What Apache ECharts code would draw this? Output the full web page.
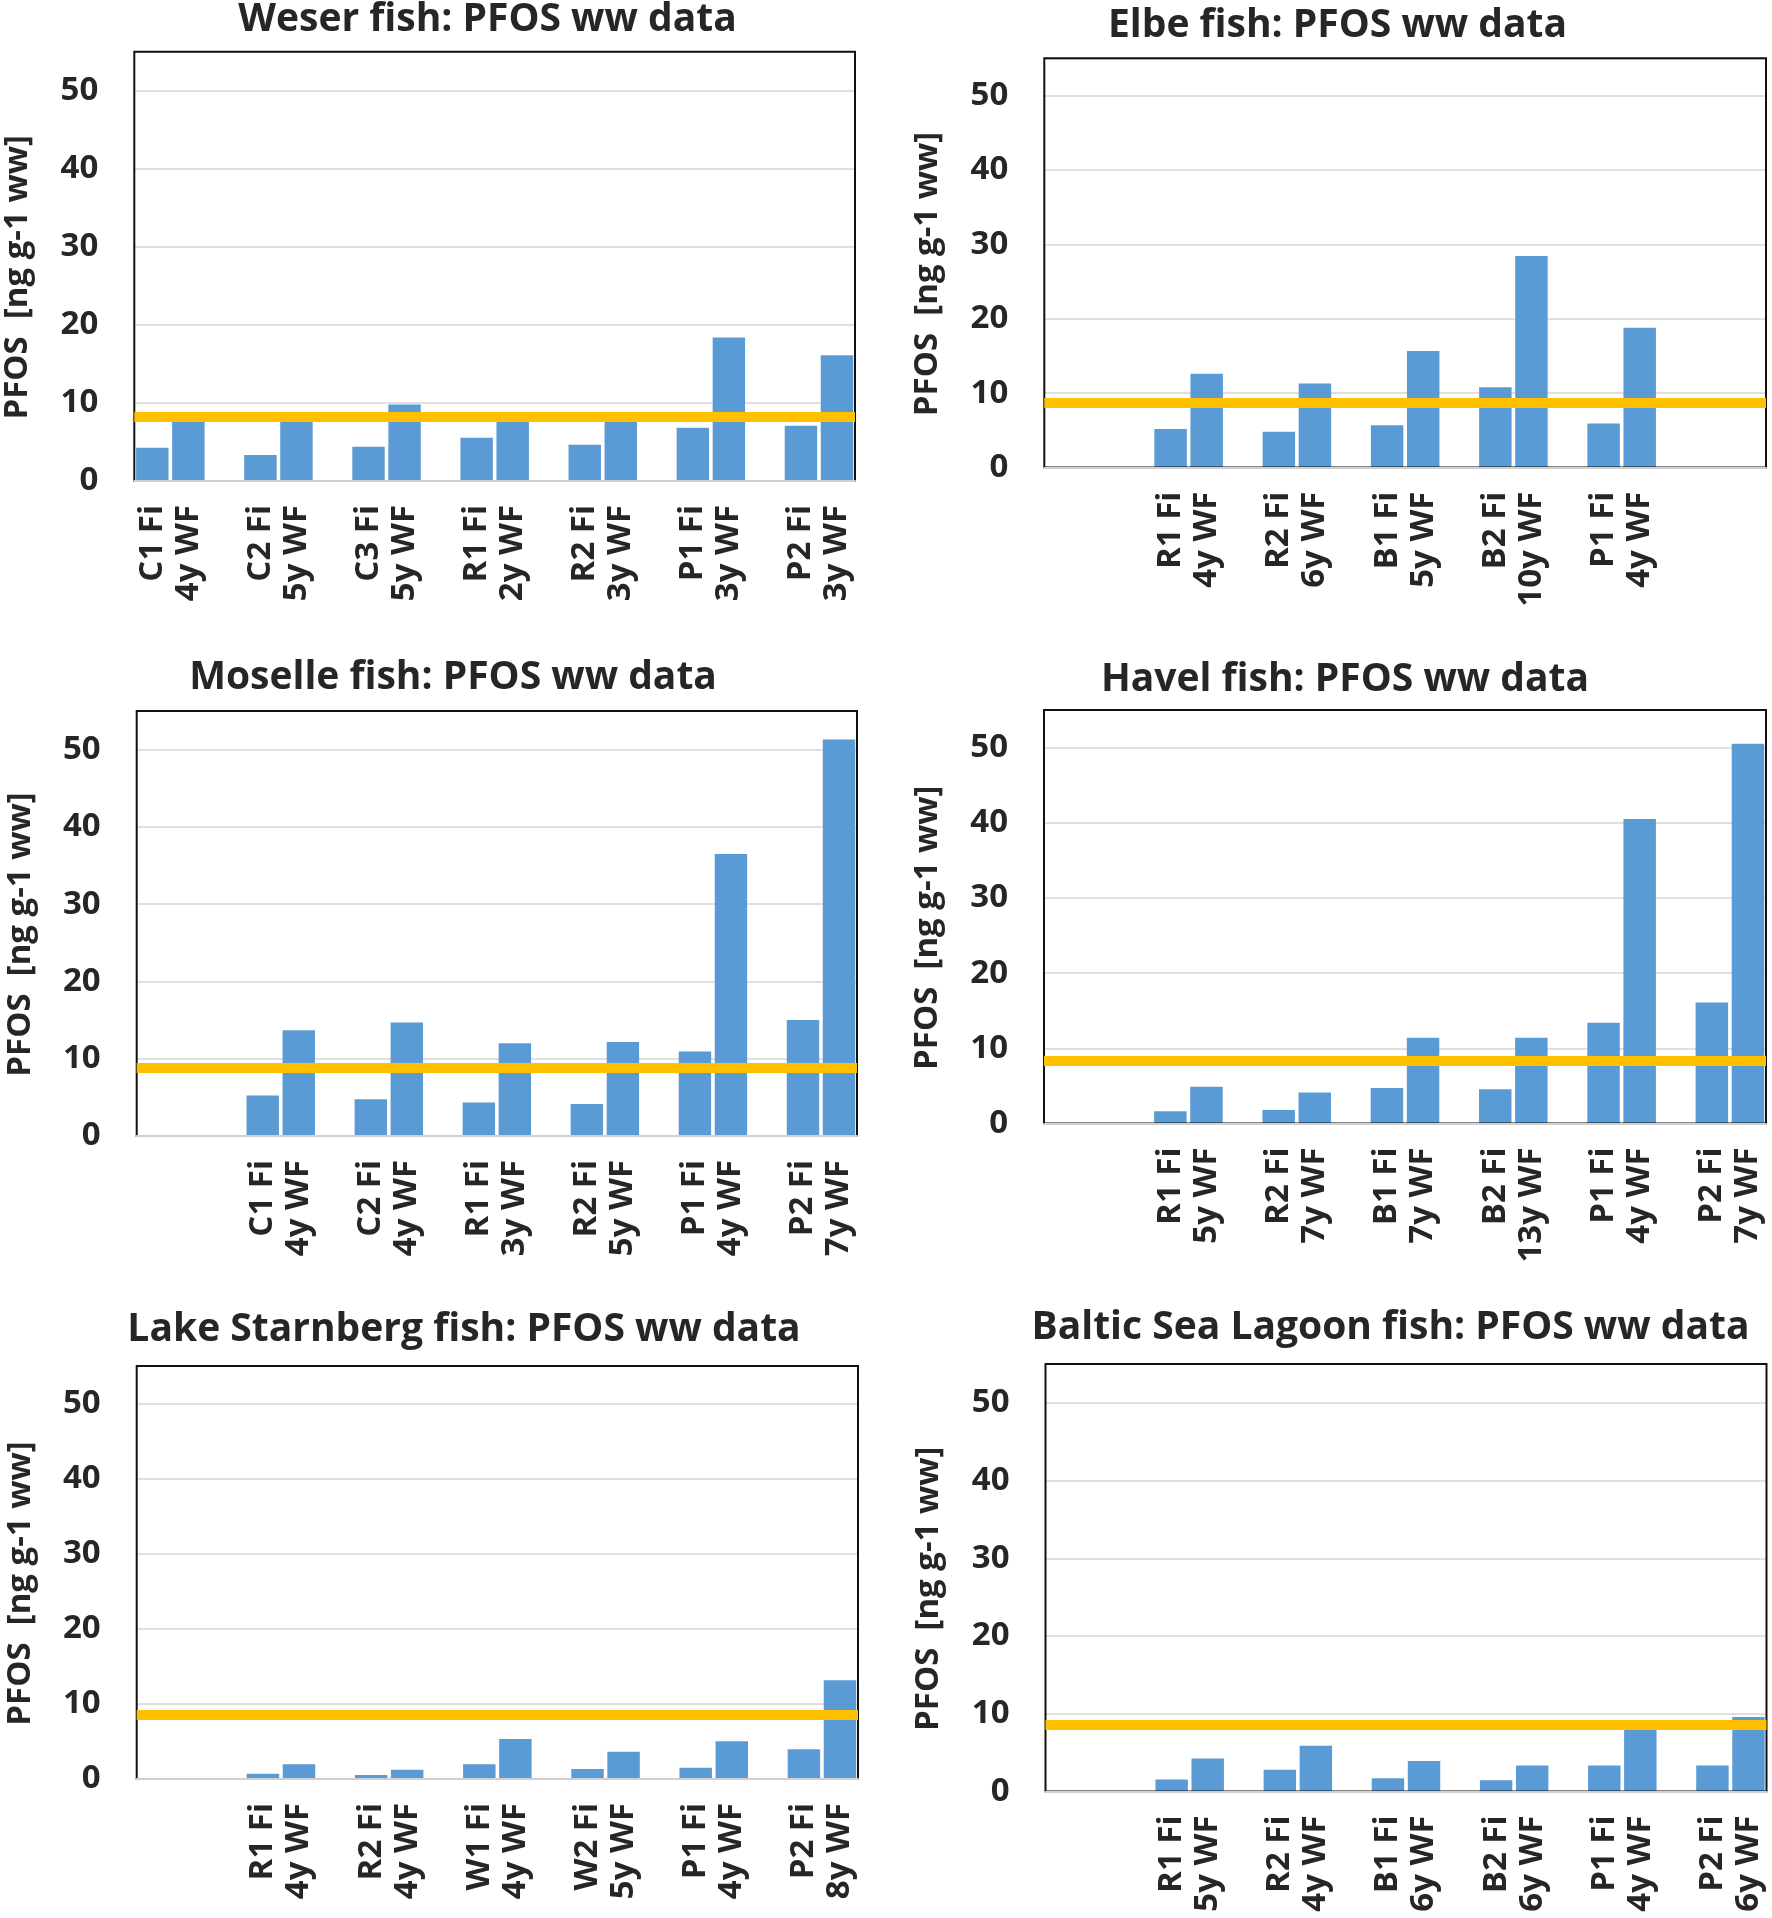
<!DOCTYPE html>
<html><head><meta charset="utf-8">
<script src="https://cdn.jsdelivr.net/npm/echarts@6/dist/echarts.min.js"></script>
<style>html,body{margin:0;padding:0;background:#fff}#c{width:1772px;height:1918px}</style>
</head><body><div id="c"></div>
<script>
// ---------- data ----------
const titles = [
  'Weser fish: PFOS ww data', 'Elbe fish: PFOS ww data',
  'Moselle fish: PFOS ww data', 'Havel fish: PFOS ww data',
  'Lake Starnberg fish: PFOS ww data', 'Baltic Sea Lagoon fish: PFOS ww data'
];
const yTicks = [0, 10, 20, 30, 40, 50];
const yAxisTitle = 'PFOS  [ng g-1 ww]';

const weserCats = ['C1 Fi','4y WF','','C2 Fi','5y WF','','C3 Fi','5y WF','','R1 Fi','2y WF','','R2 Fi','3y WF','','P1 Fi','3y WF','','P2 Fi','3y WF'];
const weserVals = [4.27,8.0,null,3.33,8.0,null,4.4,9.8,null,5.55,8.0,null,4.65,8.0,null,6.83,18.4,null,7.09,16.1];

const elbeCats = ['','','','R1 Fi','4y WF','','R2 Fi','6y WF','','B1 Fi','5y WF','','B2 Fi','10y WF','','P1 Fi','4y WF','','',''];
const elbeVals = [null,null,null,5.2,12.6,null,4.83,11.3,null,5.68,15.66,null,10.8,28.45,null,5.94,18.8,null,null,null];

const moselleCats = ['','','','C1 Fi','4y WF','','C2 Fi','4y WF','','R1 Fi','3y WF','','R2 Fi','5y WF','','P1 Fi','4y WF','','P2 Fi','7y WF'];
const moselleVals = [null,null,null,5.24,13.7,null,4.76,14.7,null,4.34,12.0,null,4.13,12.17,null,10.95,36.5,null,15.0,51.3];

const havelCats = ['','','','R1 Fi','5y WF','','R2 Fi','7y WF','','B1 Fi','7y WF','','B2 Fi','13y WF','','P1 Fi','4y WF','','P2 Fi','7y WF'];
const havelVals = [null,null,null,1.63,4.9,null,1.8,4.13,null,4.73,11.4,null,4.57,11.4,null,13.4,40.5,null,16.1,50.5];

const starnbergCats = ['','','','R1 Fi','4y WF','','R2 Fi','4y WF','','W1 Fi','4y WF','','W2 Fi','5y WF','','P1 Fi','4y WF','','P2 Fi','8y WF'];
const starnbergVals = [null,null,null,0.7,1.98,null,0.53,1.23,null,1.98,5.34,null,1.34,3.63,null,1.5,5.02,null,3.95,13.14];

const balticCats = ['','','','R1 Fi','5y WF','','R2 Fi','4y WF','','B1 Fi','6y WF','','B2 Fi','6y WF','','P1 Fi','4y WF','','P2 Fi','6y WF'];
const balticVals = [null,null,null,1.55,4.23,null,2.79,5.88,null,1.7,3.92,null,1.44,3.35,null,3.35,8.2,null,3.35,9.6];

// threshold (yellow line)
const thresholds = [8.2, 8.7, 8.8, 8.4, 8.6, 8.6];

const panelCats = [weserCats, elbeCats, moselleCats, havelCats, starnbergCats, balticCats];
const panelVals = [weserVals, elbeVals, moselleVals, havelVals, starnbergVals, balticVals];

// ---------- layout ----------
const grids = [
  {left:134.3, top:51.7, width:720.7, height:429.3},
  {left:1044.3, top:58.3, width:721.7, height:409.3},
  {left:136.7, top:711, width:720.3, height:425},
  {left:1044, top:710, width:722, height:413.5},
  {left:136.7, top:1366, width:721.3, height:413},
  {left:1045.5, top:1364, width:721, height:427.5}
];
const titlePos = [
  {x:487.5, y:0}, {x:1337.5, y:6.5},
  {x:453, y:658}, {x:1345, y:660},
  {x:464, y:1310.5}, {x:1390.5, y:1308.5}
];

const FONT = '"Open Sans", "Noto Sans", sans-serif';
const TXT = '#262626';

const option = {
  animation: false,
  backgroundColor: '#fff',
  title: titles.map((t, i) => ({
    text: t, left: titlePos[i].x, top: titlePos[i].y, textAlign: 'center', padding: 0,
    textStyle: {fontFamily: FONT, fontWeight: 'bold', fontSize: 39, color: TXT}
  })),
  grid: grids.map(g => Object.assign({show: true, z: 3, borderColor: '#111', borderWidth: 2, backgroundColor: 'transparent', containLabel: false}, g)),
  xAxis: panelCats.map((cats, i) => ({
    type: 'category', gridIndex: i, data: cats, z: 4,
    axisTick: {show: false},
    axisLine: {show: true, lineStyle: {color: '#d0d0d0', width: 2}},
    axisLabel: {interval: 0, rotate: 90, margin: 24, fontFamily: FONT, fontWeight: 'bold', fontSize: 33, color: TXT}
  })),
  yAxis: panelCats.map((c, i) => ({
    type: 'value', gridIndex: i, min: 0, max: 55, interval: 10,
    name: yAxisTitle, nameLocation: 'middle', nameGap: 100,
    nameTextStyle: {fontFamily: FONT, fontWeight: 'bold', fontSize: 33, color: TXT, padding: [0, 22, 0, 0]},
    axisLine: {show: false}, axisTick: {show: false},
    splitLine: {show: true, lineStyle: {color: '#d6d6d6', width: 1.5}},
    axisLabel: {margin: 36, fontFamily: FONT, fontWeight: 'bold', fontSize: 33, color: TXT,
      formatter: v => (yTicks.indexOf(v) >= 0 ? String(v) : '')}
  })),
  series: panelVals.map((vals, i) => ({
    type: 'bar', xAxisIndex: i, yAxisIndex: i, data: vals,
    barCategoryGap: '10%',
    itemStyle: {color: '#5B9BD5'},
    markLine: {
      silent: true, symbol: ['none', 'none'], label: {show: false},
      lineStyle: {color: '#FFC000', width: 10, type: 'solid'},
      data: [{yAxis: thresholds[i]}]
    }
  }))
};

const chart = echarts.init(document.getElementById('c'), null, {renderer: 'canvas'});
chart.setOption(option);
</script>
</body></html>
